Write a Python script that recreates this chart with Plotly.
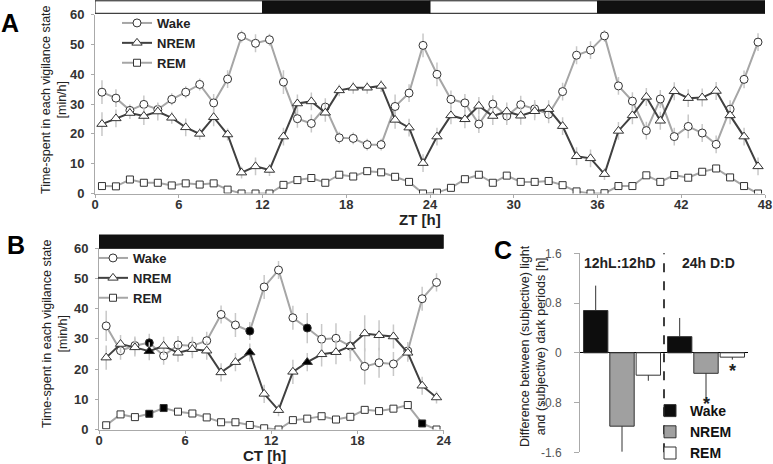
import plotly.graph_objects as go

# ---- panel A: 48 h in 12hL:12hD (ZT) ----
zt_hours = [i + 0.5 for i in range(48)]
wake_a = [34.0, 32.0, 27.9, 29.9, 28.2, 31.6, 34.0, 36.6, 30.4, 38.4, 52.7, 50.4, 51.6, 37.4, 25.1, 23.5,
          29.0, 18.7, 18.5, 16.4, 16.4, 29.2, 33.7, 49.7, 40.0, 31.6, 30.4, 23.3, 30.0, 26.0, 29.8, 28.4,
          26.6, 34.2, 46.4, 48.1, 52.9, 36.1, 31.0, 21.1, 31.7, 19.1, 22.5, 20.3, 16.5, 28.3, 38.3, 50.8]
nrem_a = [23.3, 25.2, 27.0, 26.0, 27.5, 25.4, 22.2, 20.0, 25.6, 19.8, 7.0, 9.1, 7.9, 19.1, 30.2, 30.9,
          27.1, 34.6, 35.5, 35.5, 36.1, 24.7, 22.1, 10.2, 19.1, 26.2, 24.9, 29.4, 26.0, 27.5, 26.1, 27.6,
          28.3, 22.6, 12.5, 11.8, 6.5, 21.0, 26.2, 32.4, 24.4, 34.3, 32.0, 32.2, 34.4, 26.2, 19.1, 9.1]
rem_a = [2.5, 2.4, 4.7, 3.6, 3.6, 2.7, 3.4, 3.0, 3.4, 1.3, 0.0, 0.0, 0.0, 2.9, 4.5, 5.2,
         3.6, 6.3, 5.7, 7.5, 7.1, 5.6, 3.9, 0.0, 0.3, 1.9, 4.8, 6.3, 3.6, 6.0, 3.9, 3.9,
         4.2, 2.8, 0.7, 0.0, 0.1, 2.5, 2.5, 6.1, 3.9, 6.2, 5.3, 7.3, 8.4, 5.4, 2.5, 0.0]
wake_a_err = [4, 3, 2, 3, 2, 2, 2, 2, 3, 3, 2, 3, 2, 4, 3, 3, 3, 2, 2, 2, 2, 4, 3, 4,
              4, 3, 3, 3, 3, 3, 3, 3, 3, 3, 3, 3, 2, 3, 3, 3, 3, 3, 4, 3, 3, 3, 3, 3]
nrem_a_err = [4, 3, 2, 3, 3, 2, 3, 2, 3, 2, 2, 3, 2, 3, 3, 3, 3, 2, 2, 2, 2, 3, 3, 3,
              3, 3, 3, 3, 3, 3, 3, 3, 3, 3, 3, 3, 2, 3, 3, 3, 3, 3, 3, 3, 3, 3, 3, 3]
zt_periods = [(0, 12, "light"), (12, 24, "dark"), (24, 36, "light"), (36, 48, "dark")]

# ---- panel B: 24 h in constant darkness (CT) ----
ct_hours = [i + 0.5 for i in range(24)]
wake_b = [34.3, 26.1, 27.8, 28.7, 24.4, 28.0, 27.7, 29.4, 38.1, 34.6, 32.6, 47.2,
          52.8, 37.0, 33.6, 29.9, 30.2, 27.6, 20.9, 22.1, 21.7, 26.0, 43.3, 48.7]
nrem_b = [23.8, 28.3, 27.2, 25.9, 27.7, 25.4, 26.6, 26.1, 18.9, 22.3, 25.5, 11.8,
          6.4, 19.1, 22.3, 24.9, 25.6, 27.6, 31.8, 31.2, 30.8, 25.4, 14.5, 10.6]
rem_b = [1.4, 5.0, 4.1, 5.2, 7.1, 5.9, 5.3, 4.0, 2.4, 2.4, 1.5, 0.4,
         0.0, 3.1, 3.6, 4.4, 3.3, 4.2, 6.5, 6.1, 6.9, 8.1, 2.0, 0.0]
wake_b_err = [5, 3, 3, 3, 3, 3, 3, 3, 3, 4, 3, 4, 3, 4, 5, 5, 5, 5, 6, 5, 4, 3, 4, 3]
nrem_b_err = [4, 3, 3, 3, 3, 3, 3, 3, 3, 3, 3, 3, 2, 4, 3, 4, 4, 4, 6, 5, 4, 3, 3, 2]
wake_b_sig = [3.5, 10.5, 14.5]
nrem_b_sig = [3.5, 10.5, 14.5]
rem_b_sig = [3.5, 4.5, 22.5]

# ---- panel C: light - dark difference ----
conditions = ["12hL:12hD", "24h D:D"]
wake_c = [0.68, 0.26]
nrem_c = [-1.18, -0.33]
rem_c = [-0.36, -0.07]
wake_c_err = [0.40, 0.30]
nrem_c_err = [0.41, 0.44]
rem_c_err = [0.09, 0.04]

W, H = 773, 464
FONT = "Liberation Sans, Arial, sans-serif"
LIGHT = "#a6a6a6"
DARK = "#404040"
EDGE = "#333333"
ERR = "#c8c8c8"


def px(x):
    return x / W


def py(y):
    return 1 - y / H


def fills(hours, sig):
    return ["black" if h in sig else "white" for h in hours]


fig = go.Figure()

series = [("Wake", "circle", 8, LIGHT), ("NREM", "triangle-up", 9, DARK), ("REM", "square", 7, LIGHT)]

# panel A
for (name, sym, size, col), y, err in zip(series, [wake_a, nrem_a, rem_a], [wake_a_err, nrem_a_err, None]):
    fig.add_trace(go.Scatter(
        x=zt_hours, y=y, name=name, mode="lines+markers", xaxis="x", yaxis="y", legend="legend",
        line=dict(color=col, width=2),
        marker=dict(symbol=sym, size=size, color="white", line=dict(color=EDGE, width=1)),
        error_y=dict(type="data", array=err, color=ERR, thickness=1.5, width=0, visible=err is not None),
    ))

# panel B
for (name, sym, size, col), y, err, sig in zip(series, [wake_b, nrem_b, rem_b],
                                               [wake_b_err, nrem_b_err, None],
                                               [wake_b_sig, nrem_b_sig, rem_b_sig]):
    fig.add_trace(go.Scatter(
        x=ct_hours, y=y, name=name, mode="lines+markers", xaxis="x2", yaxis="y2", legend="legend2",
        line=dict(color=col, width=2),
        marker=dict(symbol=sym, size=size, color=fills(ct_hours, sig), line=dict(color=EDGE, width=1)),
        error_y=dict(type="data", array=err, color=ERR, thickness=1.5, width=0, visible=err is not None),
    ))

# panel C
for name, vals, errs, fill in [("Wake", wake_c, wake_c_err, "#0d0d0d"),
                               ("NREM", nrem_c, nrem_c_err, "#a0a0a0"),
                               ("REM", rem_c, rem_c_err, "white")]:
    fig.add_trace(go.Bar(
        x=conditions, y=vals, name=name, xaxis="x3", yaxis="y3", legend="legend3",
        marker=dict(color=fill, line=dict(color=EDGE, width=1)),
        error_y=dict(type="data", symmetric=False,
                     array=[e if v > 0 else 0 for v, e in zip(vals, errs)],
                     arrayminus=[e if v < 0 else 0 for v, e in zip(vals, errs)],
                     color=EDGE, thickness=1, width=0),
    ))

# light/dark bars
shapes = []
for x0, x1, kind in zt_periods:
    shapes.append(dict(type="rect", xref="x", yref="paper", x0=x0, x1=x1, y0=py(13.3), y1=py(0.8),
                       fillcolor="white" if kind == "light" else "#111111",
                       line=dict(color="#111111", width=1)))
shapes.append(dict(type="rect", xref="x2", yref="paper", x0=0, x1=24, y0=py(248.3), y1=py(235),
                   fillcolor="#111111", line=dict(color="#111111", width=1)))
shapes.append(dict(type="line", xref="x3", yref="y3 domain", x0=0.5, x1=0.5, y0=0, y1=1,
                   line=dict(color="black", width=1.5, dash="dash")))

tick = dict(family=FONT, size=13, color="#333", weight="bold")
line_axis = dict(showline=True, linecolor="#aaaaaa", linewidth=1, ticks="outside", ticklen=3,
                 tickcolor="#aaaaaa", showgrid=False, zeroline=False, tickfont=tick,
                 ticklabeloverflow="allow")
x_axis = dict(line_axis, ticklabelstandoff=-4)
y_axis = dict(line_axis, ticklabelstandoff=4)

ann = []
for t, x, y in [("A", 10, 23), ("B", 16, 245), ("C", 503, 250)]:
    ann.append(dict(text=t, x=px(x), y=py(y), font=dict(size=25, weight="bold", color="black")))
for t, x, y in [("Time-spent in each vigilance state<br>[min/h]", 54, 100),
                ("Time-spent in each vigilance state<br>[min/h]", 55, 334),
                ("Difference between (subjective) light<br>and (subjective) dark periods [h]", 533, 346)]:
    ann.append(dict(text=t, x=px(x), y=py(y), textangle=-90, font=dict(size=12.5, color="#222")))
for t, x, y, s in [("ZT [h]", 420, 219, 15), ("CT [h]", 264, 455, 15),
                   ("12hL:12hD", 620, 263, 14), ("24h D:D", 708, 263, 14)]:
    ann.append(dict(text=t, x=px(x), y=py(y), font=dict(size=s, weight="bold", color="#222")))
# significance marks
ann.append(dict(text="*", xref="x3", yref="y3", x=1, y=nrem_c[1] - nrem_c_err[1] - 0.06,
                font=dict(size=18, weight="bold", color="#222")))
ann.append(dict(text="*", xref="x3", yref="y3", x=1.313, y=rem_c[1] - rem_c_err[1] - 0.18,
                font=dict(size=18, weight="bold", color="#222")))
for a in ann:
    a.setdefault("xref", "paper")
    a.setdefault("yref", "paper")
    a.setdefault("showarrow", False)
    a.setdefault("xanchor", "center")
    a.setdefault("yanchor", "middle")

leg = dict(bgcolor="rgba(0,0,0,0)", borderwidth=0, itemwidth=30, yanchor="top", xanchor="left",
           font=dict(family=FONT, size=13, weight="bold", color="#222"))

fig.update_layout(
    width=W, height=H, margin=dict(l=0, r=0, t=0, b=0, autoexpand=False),
    paper_bgcolor="white", plot_bgcolor="white",
    font=dict(family=FONT, color="#222"),
    barmode="group", bargap=0.06, bargroupgap=0.074,
    xaxis=dict(domain=[px(95), px(765)], range=[0, 48], tickvals=list(range(0, 49, 6)), anchor="y", **x_axis),
    yaxis=dict(domain=[py(193.5), py(14.7)], range=[0, 60], tickvals=list(range(0, 61, 10)), anchor="x", **y_axis),
    xaxis2=dict(domain=[px(99), px(443.7)], range=[0, 24], tickvals=list(range(0, 25, 6)), anchor="y2", **x_axis),
    yaxis2=dict(domain=[py(429.5), py(248.3)], range=[0, 60], tickvals=list(range(0, 61, 10)), anchor="x2", **y_axis),
    xaxis3=dict(domain=[px(580), px(748)], type="category", range=[-0.5, 1.5], anchor="y3",
                showticklabels=False, ticks="", showline=False, showgrid=False),
    yaxis3=dict(domain=[py(452.3), py(253.3)], range=[-1.6, 1.6], anchor="x3",
                tickvals=[-1.6, -0.8, 0, 0.8, 1.6], ticktext=["-1.6", "-0.8", "0", "0.8", "1.6"],
                showline=True, linecolor="#aaaaaa", ticks="outside", ticklen=5, tickcolor="#aaaaaa",
                ticklabelstandoff=10,
                showgrid=False, zeroline=True, zerolinecolor="black", zerolinewidth=1,
                tickfont=dict(family=FONT, size=12, color="#555")),
    legend=dict(x=px(117), y=py(8), **leg),
    legend2=dict(x=px(93), y=py(243), **leg),
    legend3=dict(x=px(650), y=py(395), **{**leg, "font": dict(family=FONT, size=14, weight="bold", color="#111")}),
    shapes=shapes,
    annotations=ann,
)

# the page's default body margin would shift the whole figure by 8px
fig.write_html("out.html", config={"displayModeBar": False},
               post_script="document.body.style.margin = '0';")
